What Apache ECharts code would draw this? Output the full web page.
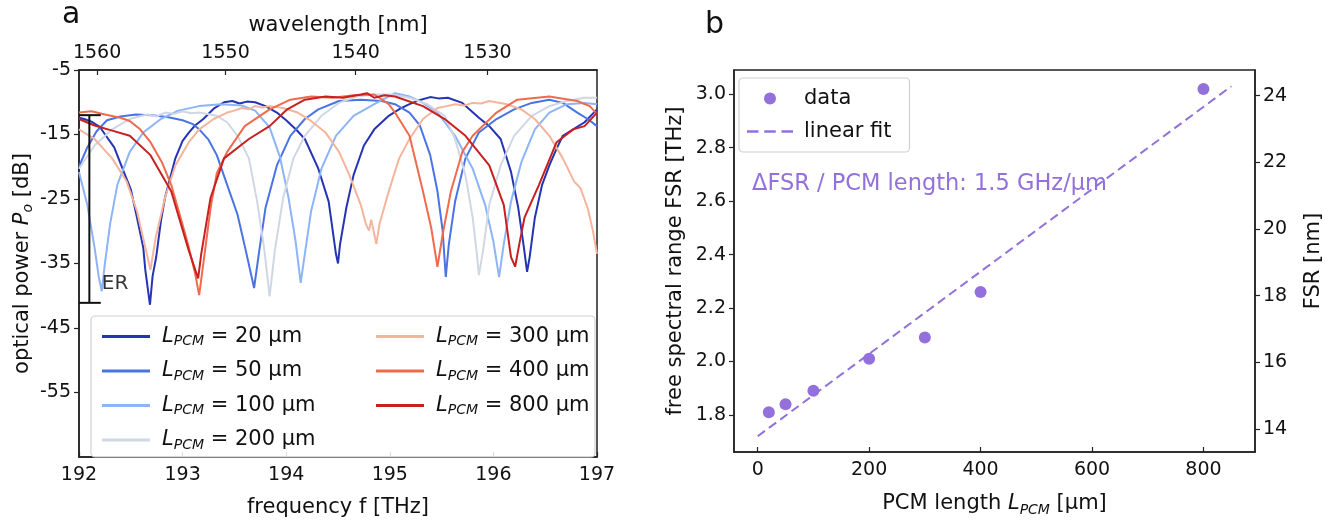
<!DOCTYPE html>
<html><head><meta charset="utf-8">
<script src="https://cdn.jsdelivr.net/npm/echarts@6/dist/echarts.min.js"></script>
<style>html,body{margin:0;padding:0;background:#fff}#c{width:1330px;height:523px}</style>
</head><body><div id="c"></div>
<script>
// ---------- Panel a data ----------
const freqTicks = [192, 193, 194, 195, 196, 197];
const wlTicks = [1560, 1550, 1540, 1530];
const dbTicks = [-55, -45, -35, -25, -15, -5];
const pcmNames = ['20', '50', '100', '200', '300', '400', '800'];
const pcmColors = ['#2434b2', '#4a73e3', '#8db4f7', '#cfd7e4', '#f5b49c', '#ee6b4e', '#c81f1f'];

const spec20 = [[192.00,-12.4],[192.05,-12.6],[192.12,-13.0],[192.20,-13.8],[192.26,-15.2],[192.34,-17.0],[192.42,-20.3],[192.50,-23.5],[192.56,-27.9],[192.62,-32.5],[192.64,-36.0],[192.685,-41.4],[192.71,-37.0],[192.745,-34.0],[192.79,-28.5],[192.83,-24.8],[192.93,-18.7],[193.00,-16.0],[193.06,-14.7],[193.12,-13.6],[193.20,-12.6],[193.30,-11.0],[193.40,-10.0],[193.48,-9.8],[193.55,-10.2],[193.62,-9.9],[193.70,-10.0],[193.80,-10.6],[193.91,-11.6],[194.00,-12.8],[194.10,-14.3],[194.18,-15.7],[194.31,-20.3],[194.41,-25.4],[194.48,-33.5],[194.50,-35.0],[194.52,-32.0],[194.58,-26.4],[194.65,-21.3],[194.75,-16.7],[194.85,-14.2],[194.99,-12.1],[195.10,-11.0],[195.19,-10.3],[195.30,-9.6],[195.39,-9.2],[195.47,-9.4],[195.56,-9.3],[195.70,-10.1],[195.86,-12.4],[195.96,-13.7],[196.07,-15.7],[196.17,-20.8],[196.24,-26.4],[196.29,-32.0],[196.325,-36.3],[196.35,-34.0],[196.40,-27.9],[196.47,-22.8],[196.54,-19.8],[196.61,-17.2],[196.67,-15.2],[196.77,-14.2],[196.88,-13.1],[197.00,-11.1]];
const spec50 = [[192.00,-20.0],[192.08,-17.0],[192.17,-14.5],[192.27,-12.8],[192.40,-12.2],[192.55,-11.9],[192.70,-12.0],[192.85,-12.3],[193.00,-12.8],[193.10,-13.4],[193.16,-14.2],[193.25,-15.8],[193.33,-18.2],[193.43,-22.8],[193.53,-27.4],[193.61,-33.0],[193.69,-38.8],[193.74,-33.0],[193.80,-26.4],[193.91,-19.8],[194.04,-15.2],[194.18,-12.6],[194.31,-11.1],[194.51,-9.8],[194.72,-9.6],[194.92,-9.8],[195.05,-10.3],[195.19,-11.6],[195.29,-13.6],[195.39,-18.2],[195.46,-23.8],[195.51,-29.9],[195.54,-37.1],[195.57,-32.0],[195.63,-25.4],[195.73,-18.7],[195.86,-14.7],[196.03,-12.6],[196.20,-11.1],[196.37,-10.1],[196.54,-9.6],[196.67,-10.1],[196.81,-11.6],[196.91,-12.6],[197.00,-13.7]];
const spec100 = [[192.00,-20.8],[192.08,-25.9],[192.15,-32.5],[192.19,-37.0],[192.22,-39.3],[192.25,-35.0],[192.30,-28.9],[192.37,-22.8],[192.49,-17.7],[192.62,-14.7],[192.79,-12.6],[192.96,-11.3],[193.16,-10.6],[193.37,-10.3],[193.57,-10.5],[193.70,-11.3],[193.84,-13.9],[193.94,-18.5],[194.02,-24.6],[194.09,-31.5],[194.14,-38.0],[194.18,-33.5],[194.24,-26.9],[194.34,-20.3],[194.48,-15.2],[194.65,-12.1],[194.85,-10.3],[195.05,-8.6],[195.19,-9.1],[195.32,-10.1],[195.46,-11.6],[195.63,-15.2],[195.80,-20.3],[195.92,-25.9],[196.00,-31.6],[196.055,-37.1],[196.10,-32.0],[196.17,-25.4],[196.27,-19.3],[196.40,-14.2],[196.54,-11.6],[196.71,-10.3],[196.88,-10.1],[197.00,-10.3]];
const spec200 = [[192.00,-20.3],[192.15,-16.7],[192.32,-14.2],[192.49,-12.6],[192.58,-12.2],[192.66,-11.9],[192.75,-12.2],[192.83,-11.6],[192.92,-11.8],[193.00,-11.4],[193.08,-11.7],[193.16,-11.6],[193.33,-12.1],[193.43,-13.1],[193.53,-15.2],[193.64,-18.7],[193.72,-25.4],[193.79,-33.0],[193.84,-40.1],[193.89,-33.0],[193.97,-24.9],[194.07,-18.7],[194.18,-15.2],[194.34,-12.1],[194.51,-10.1],[194.68,-9.1],[194.85,-8.8],[195.02,-8.8],[195.19,-9.3],[195.36,-10.3],[195.53,-12.1],[195.63,-15.7],[195.73,-21.3],[195.80,-27.9],[195.84,-33.5],[195.86,-36.8],[195.90,-33.0],[195.96,-25.9],[196.07,-19.8],[196.20,-15.2],[196.37,-12.1],[196.54,-10.6],[196.71,-9.8],[196.88,-9.3],[197.00,-9.3]];
const spec300 = [[192.00,-14.2],[192.15,-15.7],[192.32,-18.7],[192.46,-22.3],[192.56,-26.9],[192.64,-32.5],[192.69,-36.0],[192.74,-31.0],[192.83,-24.8],[192.93,-19.8],[193.06,-16.2],[193.16,-14.2],[193.30,-12.6],[193.43,-11.6],[193.50,-11.3],[193.57,-10.9],[193.64,-11.1],[193.70,-10.6],[193.77,-10.8],[193.84,-10.6],[193.97,-10.9],[194.11,-11.6],[194.24,-12.9],[194.38,-14.7],[194.51,-17.7],[194.61,-21.3],[194.72,-25.9],[194.77,-28.9],[194.80,-29.9],[194.82,-28.2],[194.83,-28.9],[194.87,-32.0],[194.90,-28.9],[194.99,-23.8],[195.09,-18.7],[195.19,-15.7],[195.32,-12.6],[195.46,-10.9],[195.55,-10.6],[195.63,-10.3],[195.72,-10.5],[195.80,-10.1],[195.88,-10.2],[195.96,-9.8],[196.13,-10.3],[196.27,-11.1],[196.40,-12.6],[196.54,-15.2],[196.67,-18.7],[196.78,-22.3],[196.84,-23.3],[196.91,-26.4],[196.96,-29.9],[197.00,-33.5]];
const spec400 = [[192.00,-11.6],[192.12,-11.4],[192.25,-11.9],[192.40,-12.4],[192.49,-12.9],[192.59,-14.2],[192.69,-16.2],[192.80,-19.3],[192.89,-22.8],[192.99,-28.4],[193.06,-32.5],[193.12,-36.5],[193.16,-39.9],[193.20,-35.0],[193.27,-26.4],[193.33,-21.0],[193.43,-17.7],[193.60,-13.7],[193.84,-11.1],[194.04,-9.6],[194.24,-9.1],[194.45,-9.3],[194.65,-8.9],[194.85,-8.8],[194.99,-10.3],[195.05,-11.6],[195.19,-15.2],[195.32,-23.8],[195.40,-29.5],[195.46,-35.5],[195.51,-30.5],[195.59,-23.8],[195.70,-17.7],[195.80,-15.2],[196.03,-11.6],[196.23,-9.6],[196.54,-9.1],[196.81,-9.8],[196.93,-10.6],[197.00,-11.8]];
const spec800 = [[192.00,-12.6],[192.15,-13.6],[192.32,-14.4],[192.49,-15.2],[192.69,-18.2],[192.89,-23.8],[193.06,-33.0],[193.15,-37.3],[193.18,-33.5],[193.27,-24.8],[193.40,-18.7],[193.64,-15.7],[193.84,-13.7],[194.01,-11.1],[194.18,-9.6],[194.38,-9.1],[194.55,-9.3],[194.72,-8.8],[194.78,-8.6],[194.85,-9.3],[194.95,-8.9],[195.05,-9.1],[195.32,-10.6],[195.53,-12.6],[195.73,-15.2],[195.96,-19.8],[196.10,-25.9],[196.17,-34.0],[196.21,-35.5],[196.25,-32.0],[196.30,-27.9],[196.44,-22.8],[196.61,-16.2],[196.77,-14.2],[196.88,-13.7],[197.00,-11.6]];
const spectra = [spec20, spec50, spec100, spec200, spec300, spec400, spec800];

// ER annotation (frequency THz, dB)
const erX = 192.10, erCapX = [192.0, 192.21], erTop = -12.0, erBottom = -41.1;
const erLabelPos = [192.21, -38.1];

// ---------- Panel b data ----------
const pcmLength = [20, 50, 100, 200, 300, 400, 800];
const fsrTHz = [1.81, 1.84, 1.89, 2.01, 2.09, 2.26, 3.02];
const fitLength = [0, 850];
const fitFSR = [1.72, 3.03];
const lenTicks = [0, 200, 400, 600, 800];
const fsrTicks = [1.8, 2.0, 2.2, 2.4, 2.6, 2.8, 3.0];
const nmTicks = [14, 16, 18, 20, 22, 24];

const C = 299792.458;
const FONT = 'DejaVu Sans';
const TICK = 19, LAB = 21;
const purple = '#9370db';

const chart = echarts.init(document.getElementById('c'), null, {renderer: 'canvas'});

const legendRich = {
  i: {fontFamily: FONT, fontSize: 21, fontStyle: 'italic', color: '#111', lineHeight: 26, verticalAlign: 'middle', padding: [0, 0, 0, 7]},
  s: {fontFamily: FONT, fontSize: 14, fontStyle: 'italic', color: '#111', lineHeight: 26, verticalAlign: 'bottom', padding: [0, 0, 1, 0]},
  t: {fontFamily: FONT, fontSize: 21, color: '#111', lineHeight: 26, verticalAlign: 'middle'}
};
const legFmt = n => '{i|L}{s|PCM}{t| = ' + n + ' µm}';

const series = [];
spectra.forEach((d, k) => {
  series.push({
    type: 'line', name: pcmNames[k], xAxisIndex: 0, yAxisIndex: 0, data: d,
    symbol: 'none', showSymbol: false, smooth: false, silent: true,
    lineStyle: {width: 2, color: pcmColors[k]}, itemStyle: {color: pcmColors[k]},
    z: 3 + k
  });
});
// ER bar
[[[erX, erTop], [erX, erBottom]], [[erCapX[0], erTop], [erCapX[1], erTop]], [[erCapX[0], erBottom], [erCapX[1], erBottom]]].forEach(d => {
  series.push({type: 'line', xAxisIndex: 0, yAxisIndex: 0, data: d, symbol: 'none', silent: true,
    lineStyle: {width: 2, color: '#111'}, z: 20});
});
series.push({type: 'scatter', xAxisIndex: 0, yAxisIndex: 0, data: [erLabelPos],
  symbolSize: 0, silent: true, z: 20,
  label: {show: true, position: 'right', distance: 1, formatter: 'ER', fontFamily: FONT, fontSize: 20, color: '#000'}});

// Panel b
series.push({type: 'scatter', name: 'data', xAxisIndex: 2, yAxisIndex: 2,
  data: pcmLength.map((x, i) => [x, fsrTHz[i]]), symbol: 'circle', symbolSize: 12,
  itemStyle: {color: purple, opacity: 1}, z: 5});
series.push({type: 'line', name: 'linear fit', xAxisIndex: 2, yAxisIndex: 2,
  data: fitLength.map((x, i) => [x, fitFSR[i]]), symbol: 'none',
  lineStyle: {color: purple, width: 2, type: [9, 5]}, itemStyle: {color: purple}, z: 4});

const gridA = {left: 79, top: 70, width: 518, height: 394};
const gridB = {left: 734, top: 70, width: 521, height: 394};
const lblStyle = {fontFamily: FONT, fontSize: TICK, color: '#111'};
const axLine = {show: true, onZero: false, lineStyle: {color: '#222', width: 1.5}};
const richName = {
  t: {fontFamily: FONT, fontSize: LAB, color: '#111', lineHeight: 28, verticalAlign: 'middle'},
  i: {fontFamily: FONT, fontSize: LAB, fontStyle: 'italic', color: '#111', lineHeight: 28, verticalAlign: 'middle'},
  s: {fontFamily: FONT, fontSize: 14, fontStyle: 'italic', color: '#111', lineHeight: 28, verticalAlign: 'bottom', padding: [0, 0, 1, 0]}
};
const dashIcon = 'path://M0,0h10v2h-10zM15,0h10v2h-10zM30,0h10v2h-10z';

const option = {
  backgroundColor: '#fff',
  animation: false,
  textStyle: {fontFamily: FONT},
  grid: [
    Object.assign({show: true, borderColor: '#222', borderWidth: 1.5, backgroundColor: 'transparent'}, gridA),
    Object.assign({show: true, borderColor: '#222', borderWidth: 1.5, backgroundColor: 'transparent'}, gridB)
  ],
  xAxis: [
    {type: 'value', gridIndex: 0, position: 'bottom', min: 192, max: 197,
      axisLine: axLine, splitLine: {show: false},
      axisTick: {show: true, inside: true, length: 5, customValues: freqTicks, lineStyle: {color: '#222', width: 1.2}},
      axisLabel: Object.assign({customValues: freqTicks, margin: 9}, lblStyle),
      name: 'frequency f [THz]', nameLocation: 'middle', nameGap: 40,
      nameTextStyle: {fontFamily: FONT, fontSize: LAB, color: '#111'}},
    {type: 'value', gridIndex: 0, position: 'top', min: 192, max: 197,
      axisLine: axLine, splitLine: {show: false},
      axisTick: {show: true, inside: true, length: 5, customValues: wlTicks.map(w => C / w), lineStyle: {color: '#222', width: 1.2}},
      axisLabel: Object.assign({customValues: wlTicks.map(w => C / w), margin: 7,
        formatter: v => String(Math.round(C / v))}, lblStyle),
      name: 'wavelength [nm]', nameLocation: 'middle', nameGap: 34,
      nameTextStyle: {fontFamily: FONT, fontSize: LAB, color: '#111'}},
    {type: 'value', gridIndex: 1, position: 'bottom', min: -42.5, max: 892.5,
      axisLine: axLine, splitLine: {show: false},
      axisTick: {show: true, inside: true, length: 5, customValues: lenTicks, lineStyle: {color: '#222', width: 1.2}},
      axisLabel: Object.assign({customValues: lenTicks, margin: 9}, lblStyle),
      name: '{t|PCM length }{i|L}{s|PCM}{t| [µm]}', nameLocation: 'middle', nameGap: 38,
      nameTextStyle: {fontFamily: FONT, fontSize: LAB, color: '#111', rich: richName}}
  ],
  yAxis: [
    {type: 'value', gridIndex: 0, min: -65, max: -5,
      axisLine: axLine, splitLine: {show: false},
      axisTick: {show: true, inside: false, length: 5, customValues: dbTicks, lineStyle: {color: '#222', width: 1.2}},
      axisLabel: Object.assign({customValues: dbTicks, margin: 8}, lblStyle),
      name: '{t|optical power }{i|P}{s|o}{t| [dB]}', nameLocation: 'middle', nameGap: 38,
      nameTextStyle: {fontFamily: FONT, fontSize: LAB, color: '#111', rich: richName}},
    {type: 'value', gridIndex: 1, position: 'right', min: 1.661 * 8.014, max: 3.091 * 8.014,
      axisLine: axLine, splitLine: {show: false},
      axisTick: {show: true, inside: false, length: 5, customValues: nmTicks, lineStyle: {color: '#222', width: 1.2}},
      axisLabel: Object.assign({customValues: nmTicks, margin: 8}, lblStyle),
      name: 'FSR [nm]', nameLocation: 'middle', nameGap: 48, nameRotate: 90,
      nameTextStyle: {fontFamily: FONT, fontSize: LAB, color: '#111'}},
    {type: 'value', gridIndex: 1, position: 'left', min: 1.661, max: 3.091,
      axisLine: axLine, splitLine: {show: false},
      axisTick: {show: true, inside: false, length: 5, customValues: fsrTicks, lineStyle: {color: '#222', width: 1.2}},
      axisLabel: Object.assign({customValues: fsrTicks, margin: 8, formatter: v => v.toFixed(1)}, lblStyle),
      name: 'free spectral range FSR [THz]', nameLocation: 'middle', nameGap: 48,
      nameTextStyle: {fontFamily: FONT, fontSize: LAB, color: '#111'}}
  ],
  legend: [
    {data: pcmNames.slice(0, 4), orient: 'vertical', left: 97, top: 321, itemGap: 11, itemWidth: 48, itemHeight: 3, icon: 'rect',
      formatter: legFmt, textStyle: {fontFamily: FONT, fontSize: 21, color: '#111', rich: legendRich}, z: 10, selectedMode: false},
    {data: pcmNames.slice(4), orient: 'vertical', left: 371, top: 321, itemGap: 11, itemWidth: 48, itemHeight: 3, icon: 'rect',
      formatter: legFmt, textStyle: {fontFamily: FONT, fontSize: 21, color: '#111', rich: legendRich}, z: 10, selectedMode: false},
    {data: [{name: 'data', icon: 'circle'}, {name: 'linear fit', icon: dashIcon}], orient: 'vertical', left: 739, top: 78,
      padding: [10, 18, 10, 8], itemGap: 12, itemWidth: 46, itemHeight: 12,
      backgroundColor: '#fff', borderColor: '#d0d0d0', borderWidth: 1.2, borderRadius: 4,
      textStyle: {fontFamily: FONT, fontSize: 21, color: '#111', padding: [0, 0, 0, 6]}, z: 10, selectedMode: false}
  ],
  graphic: [
    {type: 'rect', shape: {x: 91, y: 316, width: 504, height: 141, r: 4}, z: 2,
      style: {fill: 'rgba(255,255,255,0.85)', stroke: '#d0d0d0', lineWidth: 1.2}},
    {type: 'text', left: 62, top: 0, style: {text: 'a', fontFamily: FONT, fontSize: 30, fill: '#111'}},
    {type: 'text', left: 705, top: 10, style: {text: 'b', fontFamily: FONT, fontSize: 30, fill: '#111'}},
    {type: 'text', left: 752, top: 173, style: {text: 'ΔFSR / PCM length: 1.5 GHz/µm', fontFamily: FONT, fontSize: 22.5, fill: purple}}
  ],
  series: series
};
chart.setOption(option);
</script></body></html>
